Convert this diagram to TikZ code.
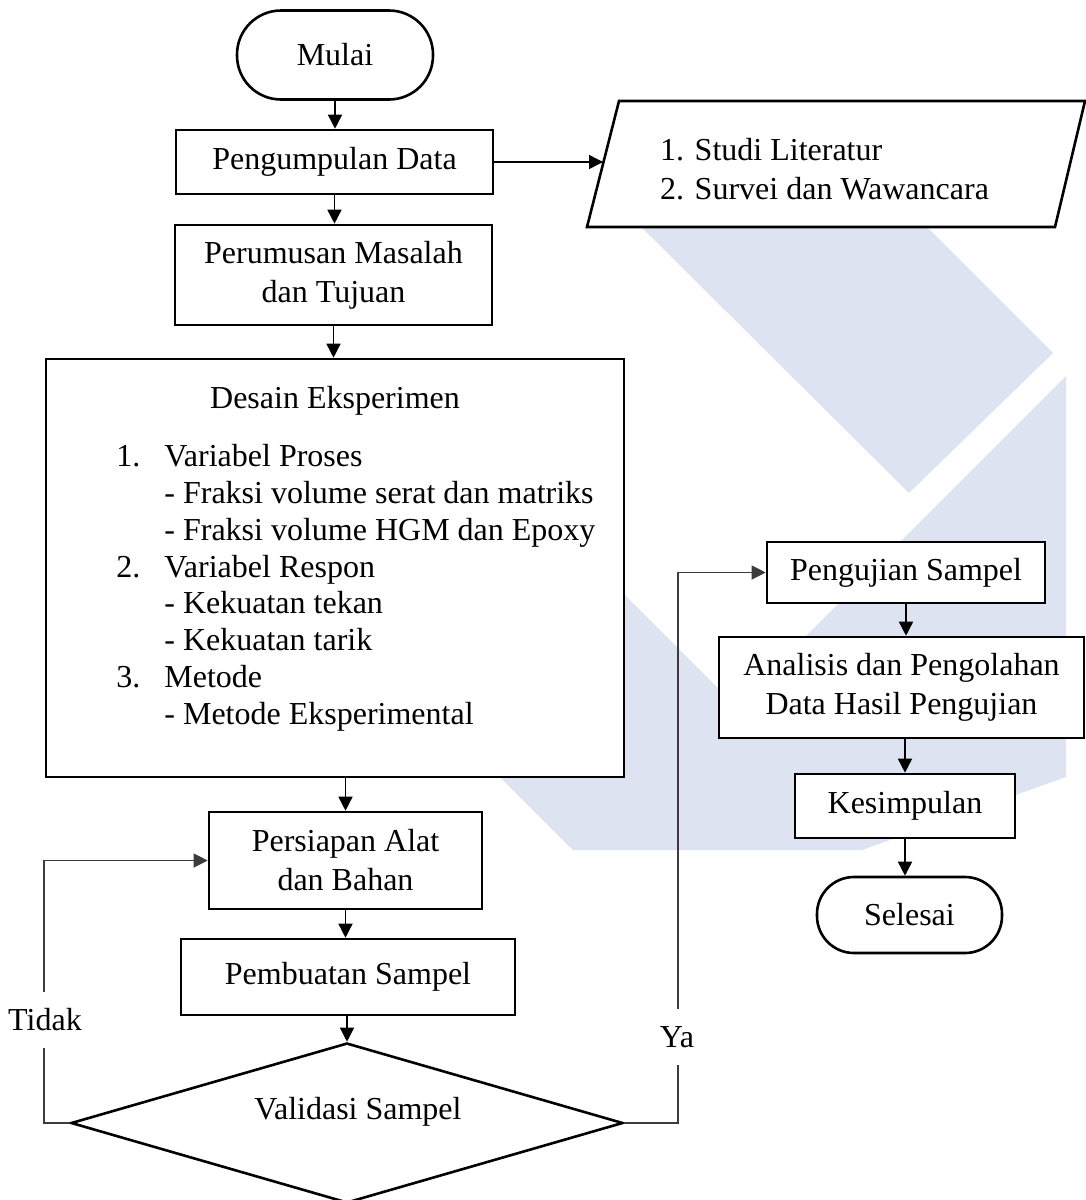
\documentclass[tikz,border=0pt]{standalone}
\usepackage{fontspec}
\setmainfont{Liberation Serif}
\usetikzlibrary{arrows.meta,shapes.geometric}
\definecolor{wm}{RGB}{221,227,240}
\definecolor{loopc}{RGB}{60,60,60}
\begin{document}
\begin{tikzpicture}[x=0.5pt,y=-0.5pt,
  font=\fontsize{16pt}{19.5pt}\selectfont,
  box/.style={draw, line width=1.3pt, fill=white, inner sep=0pt, align=center},
  termbox/.style={box, rounded corners=#1},
  arr/.style={line width=0.75pt, -{Triangle[length=7pt,width=7pt]}},
  back/.style={line width=0.6pt, draw=loopc, -{Triangle[length=7pt,width=7pt]}},
  lbl/.style={fill=white, inner xsep=1pt, inner ysep=8.5pt},
  txt/.style={inner sep=0pt, anchor=base west}]
\useasboundingbox (0,0) rectangle (1086,1200);
% faint watermark
\fill[wm] (614,200) -- (909,493) -- (1053,353) -- (900,200) -- cycle;
\fill[wm] (1066,376) -- (1066,777) -- (862,850) -- (573,850) -- (400,677) -- (600,570) -- (736,706) -- cycle;

% nodes
\node[termbox=22pt, minimum width=98pt, minimum height=44.5pt] (mulai) at (335,55) {Mulai};
\node[box, minimum width=158.5pt, minimum height=32pt] (pd) at (334.5,162) {Pengumpulan Data};
\draw[line width=1.3pt, fill=white] (619,101) -- (1085,101) -- (1055,227) -- (587,227) -- cycle;
\coordinate (litin) at (603,162);
\node[inner sep=0pt, align=left] (lit) at (824.5,169.5) {1. Studi Literatur\\2. Survei dan Wawancara};
\node[box, minimum width=158.5pt, minimum height=50pt] (per) at (333.5,275) {Perumusan Masalah\\dan Tujuan};
\node[box, minimum width=289pt, minimum height=209pt] (des) at (335,568) {};
\node[inner sep=0pt, anchor=base] (dtitle) at (335,408) {Desain Eksperimen};
\node[txt] (n1) at (116,466) {1.};
\node[txt] (l1) at (164,466) {Variabel Proses};
\node[txt] (l2) at (164,503) {- Fraksi volume serat dan matriks};
\node[txt] (l3) at (164,540) {- Fraksi volume HGM dan Epoxy};
\node[txt] (n2) at (116,577) {2.};
\node[txt] (l4) at (164,577) {Variabel Respon};
\node[txt] (l5) at (164,613) {- Kekuatan tekan};
\node[txt] (l6) at (164,650) {- Kekuatan tarik};
\node[txt] (n3) at (116,687) {3.};
\node[txt] (l7) at (164,687) {Metode};
\node[txt] (l8) at (164,724) {- Metode Eksperimental};
\node[box, minimum width=136.5pt, minimum height=48.5pt] (pers) at (345.5,860.5) {Persiapan Alat\\dan Bahan};
\node[box, minimum width=167pt, minimum height=38pt] (pemb) at (348,977) {Pembuatan Sampel};
\node[draw, diamond, line width=1.3pt, fill=white, inner sep=0pt, minimum width=276pt, minimum height=80pt] (dia) at (347,1123) {};
\node[inner sep=0pt] (vtext) at (358,1112) {Validasi Sampel};

\node[box, minimum width=139pt, minimum height=30.5pt] (peng) at (906,572.5) {Pengujian Sampel};
\node[box, minimum width=182.5pt, minimum height=50.5pt] (ana) at (901.5,687.5) {Analisis dan Pengolahan\\Data Hasil Pengujian};
\node[box, minimum width=110pt, minimum height=32pt] (kes) at (905,806) {Kesimpulan};
\node[termbox=18.5pt, minimum width=92.5pt, minimum height=38pt] (sel) at (909.5,915) {Selesai};

% connectors
\draw[arr] (mulai.south) -- (mulai.south |- pd.north);
\draw[arr] (pd.east) -- (litin);
\draw[arr] (pd.south) -- (pd.south |- per.north);
\draw[arr] (per.south) -- (per.south |- des.north);
\draw[arr] (pers.north |- des.south) -- (pers.north);
\draw[arr] (pers.south) -- (pers.south |- pemb.north);
\draw[arr] (dia.north |- pemb.south) -- (dia.north);
\draw[arr] (peng.south) -- (peng.south |- ana.north);
\draw[arr] (kes.north |- ana.south) -- (kes.north);
\draw[arr] (kes.south) -- (kes.south |- sel.north);

% loops
\coordinate (tx) at (44,860);
\coordinate (yx) at (678,572);
\draw[back] (dia.west) -| (tx |- pers.west) -- (pers.west);
\draw[back] (dia.east) -| (yx |- peng.west) -- (peng.west);
\node[lbl] (tidak) at (45,1020) {Tidak};
\node[lbl] (ya) at (677,1037) {Ya};
\end{tikzpicture}
\end{document}
